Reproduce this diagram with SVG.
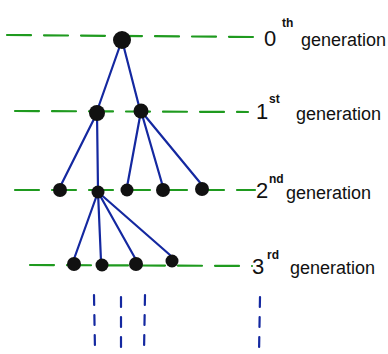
<svg xmlns="http://www.w3.org/2000/svg" width="388" height="354" viewBox="0 0 388 354">
<style>
.gl{stroke:#1f9a1f;stroke-width:2.2;fill:none;stroke-linecap:round;stroke-dasharray:24 13}
.e{stroke:#1428a0;stroke-width:2.2;fill:none;stroke-linecap:round}
.vd{stroke:#1428a0;stroke-width:2.2;fill:none;stroke-linecap:round;stroke-dasharray:10 10}
.n{fill:#111}
.num{font-family:"Liberation Sans",sans-serif;font-size:22px;fill:#111}
.sup{font-family:"Liberation Sans",sans-serif;font-size:12px;fill:#111;font-weight:bold}
.lab{font-family:"Liberation Sans",sans-serif;font-size:18px;fill:#111}
</style>
<rect width="388" height="354" fill="#fff"/>
<g id="guides">
<path class="gl" d="M7 35 L255 37"/>
<path class="gl" d="M15 111 L248 112"/>
<path class="gl" d="M15 190 L255 190"/>
<path class="gl" d="M30 265 L252 266"/>
</g>
<g id="connectors">
<path class="e" d="M122 40 L97 111"/>
<path class="e" d="M122 40 L140 110"/>
<path class="e" d="M97 113 L60 187"/>
<path class="e" d="M97 113 L98 190"/>
<path class="e" d="M141 111 L127 187"/>
<path class="e" d="M141 111 L163 187"/>
<path class="e" d="M141 111 L202 185"/>
<path class="e" d="M98 192 L74 259"/>
<path class="e" d="M98 192 L101 261"/>
<path class="e" d="M98 192 L135 258"/>
<path class="e" d="M98 192 L170 255"/>
</g>
<g id="continuation">
<path class="vd" d="M94 295 L95 350"/>
<path class="vd" d="M121 297 L121 350"/>
<path class="vd" d="M145 295 L144 352"/>
<path class="vd" d="M260 297 L259 354"/>
</g>
<g id="n0"><circle class="n" cx="122" cy="40" r="9"/></g>
<g id="n1a"><circle class="n" cx="97" cy="113" r="8"/></g>
<g id="n1b"><circle class="n" cx="141" cy="111" r="7.5"/></g>
<g id="n2a"><circle class="n" cx="60" cy="190" r="7"/></g>
<g id="n2b"><circle class="n" cx="98" cy="192" r="6.5"/></g>
<g id="n2c"><circle class="n" cx="127" cy="190" r="6.5"/></g>
<g id="n2d"><circle class="n" cx="163" cy="190" r="7"/></g>
<g id="n2e"><circle class="n" cx="202" cy="189" r="7"/></g>
<g id="n3a"><circle class="n" cx="74" cy="264" r="7"/></g>
<g id="n3b"><circle class="n" cx="102" cy="265" r="6.5"/></g>
<g id="n3c"><circle class="n" cx="136" cy="264" r="7"/></g>
<g id="n3d"><circle class="n" cx="172" cy="261" r="6.5"/></g>
<g id="labels">
<text class="num" x="264" y="46">0</text><text class="sup" x="282" y="27">th</text><text class="lab" x="301" y="46">generation</text>
<text class="num" x="256" y="119">1</text><text class="sup" x="269" y="103">st</text><text class="lab" x="296" y="120">generation</text>
<text class="num" x="256" y="198">2</text><text class="sup" x="269" y="183">nd</text><text class="lab" x="286" y="199">generation</text>
<text class="num" x="252" y="274">3</text><text class="sup" x="267" y="259">rd</text><text class="lab" x="290" y="274">generation</text>
</g>
</svg>
